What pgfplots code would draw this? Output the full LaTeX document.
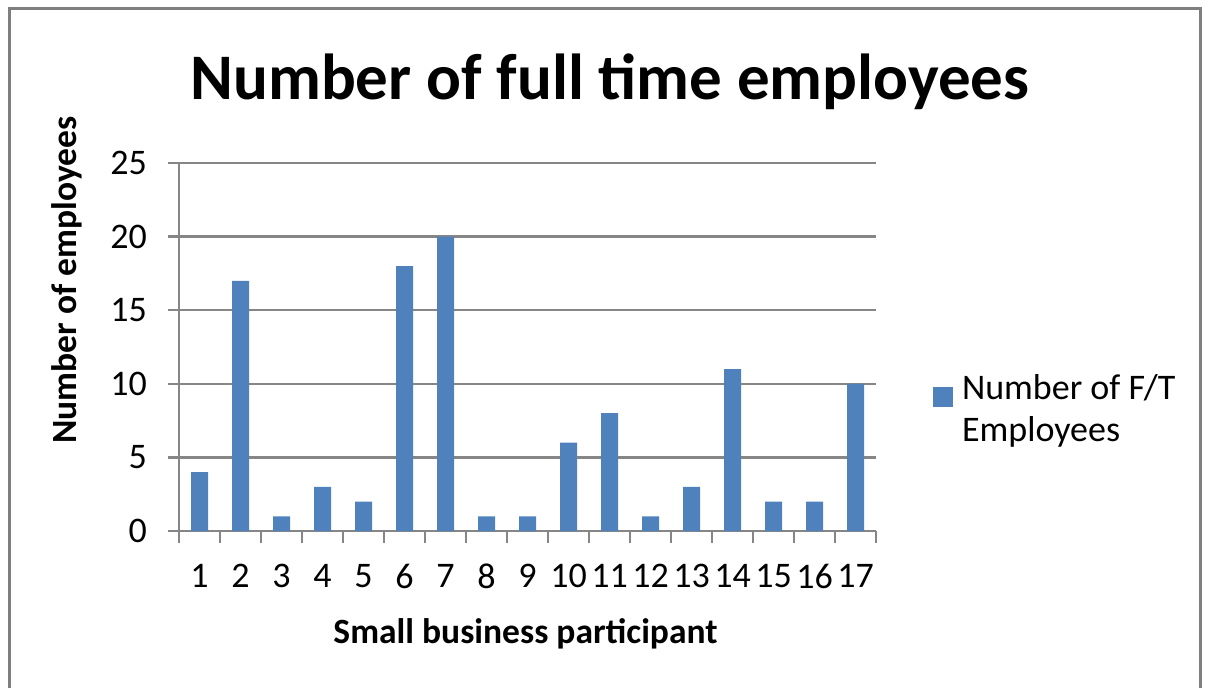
\documentclass[border=0pt]{standalone}
\usepackage{pgfplots}
\pgfplotsset{compat=1.18}
\usepackage{fontspec}
\setmainfont{Carlito}
\definecolor{barblue}{HTML}{4F81BD}
\definecolor{axgray}{HTML}{868686}
\definecolor{framegray}{HTML}{7F7F7F}
\begin{document}
\begin{tikzpicture}[x=1pt,y=1pt]
\path[use as bounding box] (0,0) rectangle (1209,688);
\draw[framegray, line width=3pt] (9,0) -- (9,679) -- (1200,679) -- (1200,0);
\node[anchor=base, font=\bfseries\fontsize{65}{70}\selectfont] at (610,588) {Number of full time employees};
\node[rotate=90, font=\bfseries\fontsize{35.5}{40}\selectfont] at (67,408) {Number of employees};
\node[anchor=base, font=\bfseries\fontsize{35.5}{40}\selectfont] at (525.5,45) {Small business participant};
\begin{axis}[
  at={(179pt,157pt)}, anchor=south west, scale only axis,
  width=697pt, height=368pt,
  xmin=0.5, xmax=17.5, ymin=0, ymax=25,
  axis x line*=bottom, axis y line*=left,
  axis line style={-, axgray, line width=2.5pt},
  ytick={0,5,...,25},
  ymajorgrids, grid style={axgray, line width=2.5pt},
  xtick={1,...,17},
  minor xtick={0.5,1.5,...,17.5},
  tick align=outside, major tick length=11pt, minor tick length=12pt,
  tick style={axgray, line width=2.5pt},
  major x tick style={draw=none},
  /pgf/number format/assume math mode=true,
  ticklabel style={font=\fontsize{36}{42}\selectfont, inner sep=0pt},
  yticklabel style={anchor=east, xshift=-21pt},
  xticklabel style={anchor=north, yshift=-22pt},
  legend style={at={(1.0818,0.4266)}, anchor=north west, draw=none, fill=none,
    inner sep=0pt, outer sep=0pt, column sep=9pt,
    font=\fontsize{36}{42}\selectfont,
    nodes={inner sep=0pt}, cells={align=left, anchor=west}},
  legend image code/.code={\fill[barblue] (0pt,1pt) rectangle (20pt,21pt);},
]
\addplot[ybar, bar width=17pt, fill=barblue, draw=none] coordinates {
(1,4) (2,17) (3,1) (4,3) (5,2) (6,18) (7,20) (8,1) (9,1)
(10,6) (11,8) (12,1) (13,3) (14,11) (15,2) (16,2) (17,10)};
\addlegendentry{Number of F/T\\Employees}
\end{axis}
\end{tikzpicture}
\end{document}
